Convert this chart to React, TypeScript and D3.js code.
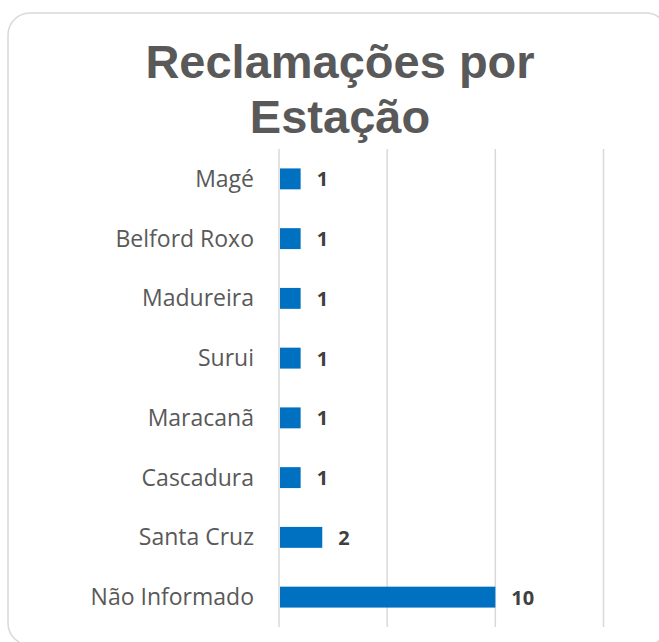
import React from "react";
import * as d3 from "d3";

const categories = ["Magé", "Belford Roxo", "Madureira", "Surui", "Maracanã", "Cascadura", "Santa Cruz", "Não Informado"];
const values = [1, 1, 1, 1, 1, 1, 2, 10];
const xTicks = [0, 5, 10, 15];
const titleLines = ["Reclamações por", "Estação"];

export default function App() {
  const W = 659, H = 642;
  const x = d3.scaleLinear().domain([0, 15]).range([279, 603.5]);
  const y = d3.scaleBand<string>().domain(categories).range([149, 627]).paddingInner(0.65).paddingOuter(0.325);
  const bh = y.bandwidth();
  return (
    <svg width={W} height={H} style={{ position: "absolute", left: 0, top: 0, display: "block" }}>
      <rect x={0} y={0} width={W} height={H} fill="#fff" />
      <rect x={8} y={13} width={660} height={632} rx={22} ry={22} fill="#fff" stroke="#d9d9d9" strokeWidth={1.5} />
      {titleLines.map((t, i) => (
        <text key={t} x={340} y={78 + i * 55} textAnchor="middle" fontFamily="'Liberation Sans', Arial, sans-serif" fontWeight="bold" fontSize={47} fill="#595959">{t}</text>
      ))}
      {xTicks.map((t) => (
        <line key={t} x1={x(t)} x2={x(t)} y1={149} y2={627} stroke="#d9d9d9" strokeWidth={1.5} />
      ))}
      {categories.map((c, i) => {
        const yc = (y(c) as number) + bh / 2;
        return (
          <g key={c}>
            <rect x={x(0) + 1} y={y(c)} width={x(values[i]) - x(0) - 1} height={bh} fill="#0070C0" />
            <text x={254} y={yc + 8} textAnchor="end" fontFamily="'Open Sans', sans-serif" fontSize={23} fill="#595959">{c}</text>
            <text x={x(values[i]) + 16} y={yc + 7.5} textAnchor="start" fontFamily="'Open Sans', sans-serif" fontWeight="bold" fontSize={20} fill="#404040">{values[i]}</text>
          </g>
        );
      })}
    </svg>
  );
}
